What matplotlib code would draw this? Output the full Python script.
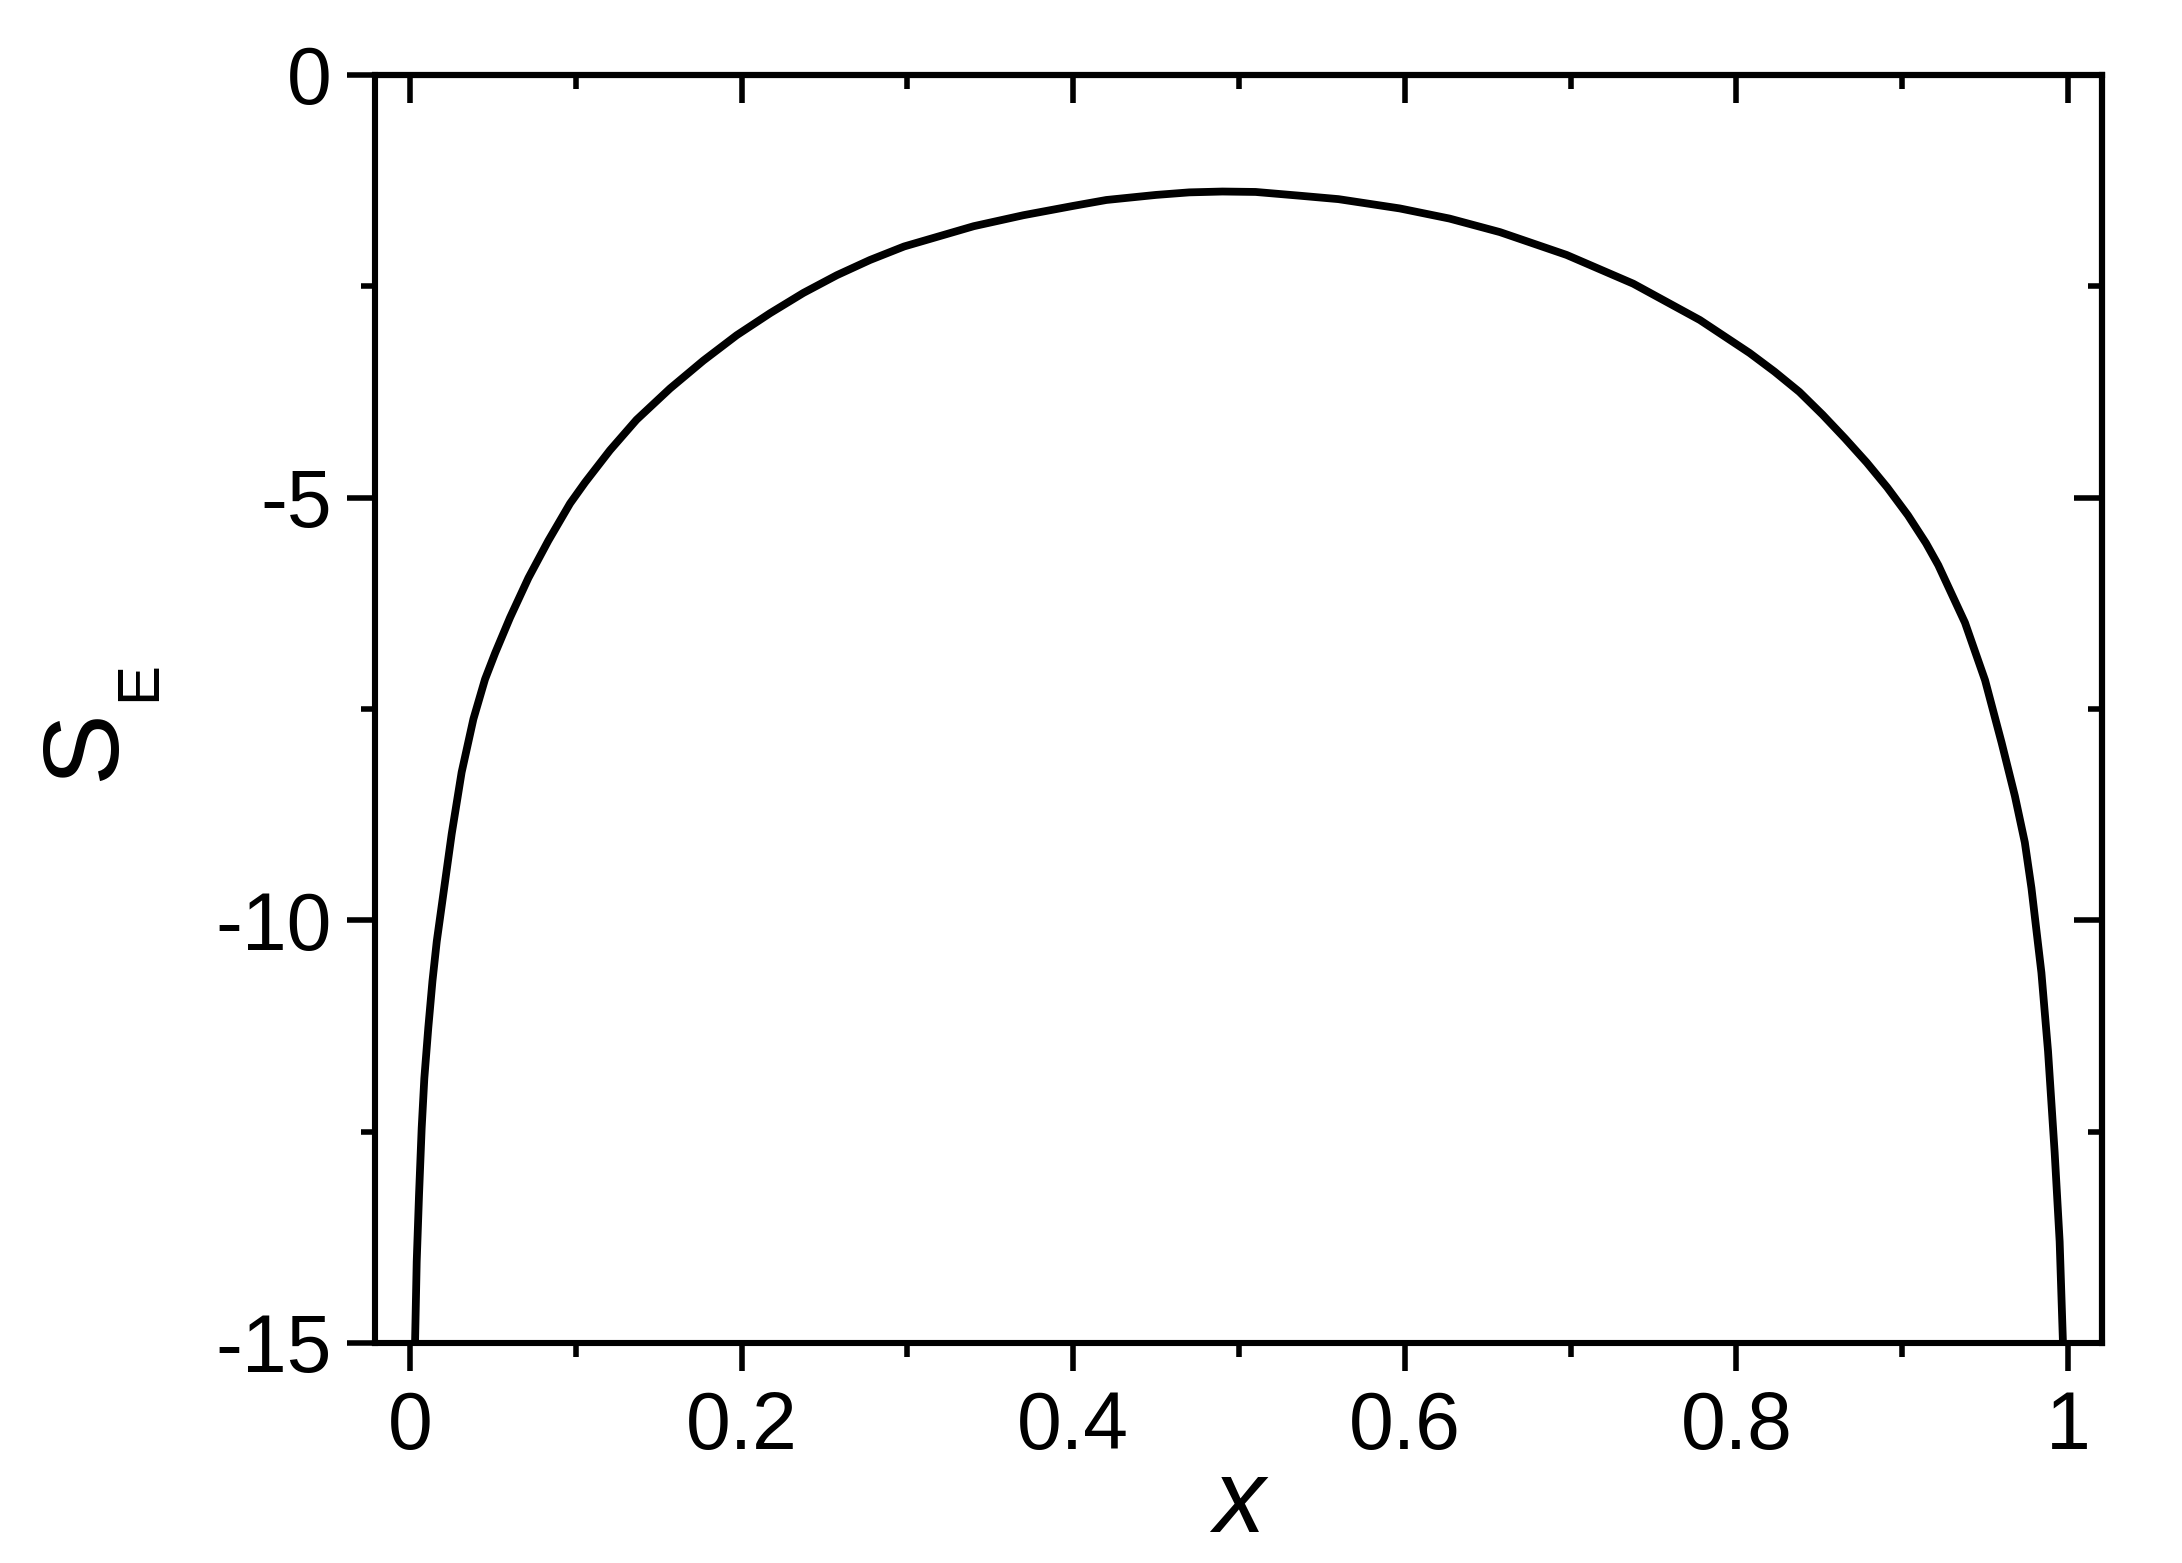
import matplotlib
matplotlib.use("Agg")
import matplotlib.pyplot as plt
from matplotlib.ticker import MultipleLocator

# --- data ---
x_vals = [0.003, 0.004, 0.0054, 0.007, 0.0086, 0.011, 0.0135, 0.0161, 0.020,
          0.0251, 0.0311, 0.0382, 0.0452, 0.0513, 0.0603, 0.0714, 0.0834,
          0.0965, 0.1056, 0.1206, 0.1366, 0.1568, 0.1769, 0.197, 0.2171,
          0.2372, 0.2574, 0.2774, 0.298, 0.34, 0.37, 0.40, 0.42, 0.45,
          0.47, 0.49, 0.51, 0.537, 0.56, 0.597, 0.627, 0.6574, 0.6976,
          0.7378, 0.778, 0.808, 0.823, 0.838, 0.852, 0.8655, 0.8786,
          0.891, 0.9035, 0.9144, 0.9218, 0.9379, 0.950, 0.960, 0.968,
          0.974, 0.978, 0.984, 0.988, 0.992, 0.995, 0.997]
s_vals = [-15.0, -14.04, -13.25, -12.46, -11.87, -11.27, -10.72, -10.25, -9.70,
          -8.98, -8.25, -7.62, -7.15, -6.84, -6.42, -5.95, -5.51,
          -5.07, -4.82, -4.44, -4.08, -3.71, -3.38, -3.08, -2.82,
          -2.58, -2.37, -2.19, -2.03, -1.79, -1.66, -1.55, -1.48, -1.42,
          -1.39, -1.38, -1.385, -1.43, -1.47, -1.58, -1.70, -1.86, -2.13,
          -2.47, -2.90, -3.29, -3.51, -3.75, -4.02, -4.30, -4.585,
          -4.88, -5.21, -5.54, -5.80, -6.48, -7.16, -7.90, -8.53,
          -9.08, -9.62, -10.62, -11.55, -12.75, -13.80, -15.0]

x_ticks = [0, 0.2, 0.4, 0.6, 0.8, 1.0]
x_ticklabels = ['0', '0.2', '0.4', '0.6', '0.8', '1']
y_ticks = [0, -5, -10, -15]
y_ticklabels = ['0', '-5', '-10', '-15']

plt.rcParams['font.family'] = ['Liberation Sans', 'DejaVu Sans']
plt.rcParams['axes.unicode_minus'] = False

fig = plt.figure(figsize=(10.91, 7.815), dpi=200)
ax = fig.add_axes([0.1719, 0.1408, 0.7914, 0.8113])

ax.plot(x_vals, s_vals, color='black', lw=2.8,
        solid_joinstyle='round', solid_capstyle='butt')

ax.set_xlim(-0.0211, 1.0205)
ax.set_ylim(-15, 0)

for sp in ax.spines.values():
    sp.set_linewidth(2.2)

ax.set_xticks(x_ticks)
ax.set_xticklabels(x_ticklabels)
ax.set_yticks(y_ticks)
ax.set_yticklabels(y_ticklabels)
ax.xaxis.set_minor_locator(MultipleLocator(0.1))
ax.yaxis.set_minor_locator(MultipleLocator(2.5))

ax.tick_params(which='both', direction='out', width=2.0, top=False, right=False)
ax.tick_params(which='major', length=10, labelsize=29)
ax.tick_params(which='minor', length=5)
ax.tick_params(axis='x', which='major', pad=7)
ax.tick_params(axis='y', which='major', pad=5.5)

# mirrored ticks on top / right point inward
top = ax.secondary_xaxis('top')
top.set_xticks(x_ticks)
top.xaxis.set_minor_locator(MultipleLocator(0.1))
top.tick_params(which='both', direction='in', width=2.0, labeltop=False)
top.tick_params(which='major', length=10)
top.tick_params(which='minor', length=5)
top.spines['top'].set_linewidth(2.2)

right = ax.secondary_yaxis('right')
right.set_yticks(y_ticks)
right.yaxis.set_minor_locator(MultipleLocator(2.5))
right.tick_params(which='both', direction='in', width=2.0, labelright=False)
right.tick_params(which='major', length=10)
right.tick_params(which='minor', length=5)
right.spines['right'].set_linewidth(2.2)

ax.set_xlabel('x', fontsize=37, style='italic', va='baseline')
ax.xaxis.set_label_coords(0.5, -0.149)

# y label: S with a low subscript E
fig.text(0.0394, 0.523, 'S', fontsize=38.7, rotation=90, ha='center', va='center')
fig.text(0.0642, 0.5645, 'E', fontsize=21.6, rotation=90, ha='center', va='center')

fig.savefig('out.png', dpi=200)
